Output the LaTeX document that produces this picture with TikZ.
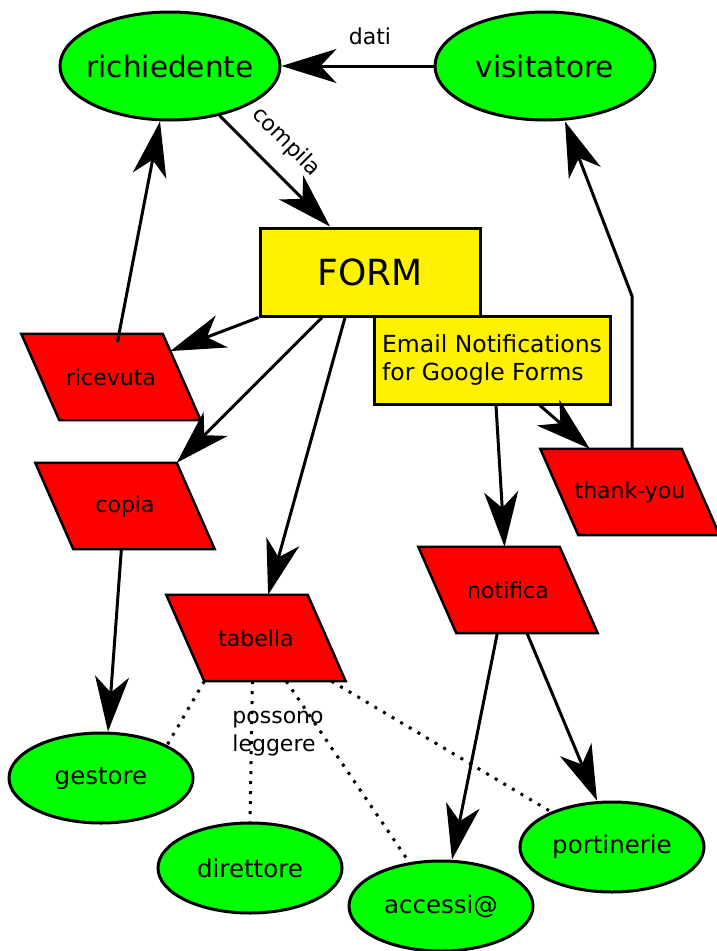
\documentclass[tikz,border=0pt]{standalone}
\usepackage{fontspec}
\setmainfont{DejaVu Sans}
\usetikzlibrary{arrows.meta,shapes.geometric,calc,backgrounds}
\begin{document}
\begin{tikzpicture}[x=1pt,y=-1pt,
  ell/.style={ellipse, draw, line width=3pt, fill=green, inner sep=0pt, minimum width=184pt, minimum height=90pt, font=\fontsize{24.5}{28}\selectfont},
  bigell/.style={ell, minimum width=220pt, minimum height=108pt, font=\fontsize{29.5}{34}\selectfont},
  para/.style={rectangle, minimum width=141pt, minimum height=86pt, inner sep=0pt, font=\fontsize{22}{26}\selectfont},
  parafill/.style={draw, line width=2.5pt, fill=red, line join=miter},
  box/.style={rectangle, draw, line width=3pt, fill=yellow},
  arr/.style={line width=3pt, -{Stealth[length=55pt,width=34pt,inset=16pt]}},
  dot/.style={line width=3pt, dash pattern=on 3pt off 7pt},
  lbl/.style={font=\fontsize{22}{28}\selectfont}
]
\useasboundingbox (0,0) rectangle (717,951);

\node[bigell] (rich) at (170,66) {\makebox[0pt]{richiedente}};
\node[bigell] (vis) at (545,66) {\makebox[0pt]{visitatore}};
\node[box, minimum width=220pt, minimum height=88pt, font=\fontsize{36}{40}\selectfont] (form) at (370,272) {FORM};
\node[box, minimum width=236pt, minimum height=88pt, align=left, font=\fontsize{23.5}{28}\selectfont] (email) at (492,360) {Email Notifications\\for Google Forms};
\node[para] (ric) at (111,377) {ricevuta};
\node[para] (copia) at (125,506) {copia};
\node[para] (tab) at (256,638) {tabella};
\node[para] (notif) at (508,590) {notifica};
\node[para] (thank) at (630,492) {thank-you};
\node[ell] (gest) at (101,778) {\makebox[0pt]{gestore}};
\node[ell] (dir) at (250,868) {\makebox[0pt]{direttore}};
\node[ell] (acc) at (441,906) {\makebox[0pt]{accessi@}};
\node[ell] (port) at (612,847) {\makebox[0pt]{portinerie}};

\begin{pgfonlayer}{background}
\foreach \n in {ric,copia,tab,notif,thank}
  \filldraw[parafill] ($(\n.north west)+(-19,0)$) -- ($(\n.north east)+(-19,0)$) -- ($(\n.south east)+(19,0)$) -- ($(\n.south west)+(19,0)$) -- cycle;
\end{pgfonlayer}

\node[lbl] (dati) at (370,36) {dati};
\node[lbl, align=left] (pl) at (278,734) {possono\\leggere};
\coordinate (bend) at (632,296);

\draw[arr] (vis.west) -- (rich.east);
\draw[arr] (rich.-45) -- node[lbl, sloped, above=13pt, pos=0.42] {compila} ([xshift=-40pt]form.north);
\draw[arr] ($(ric.north west)!0.68!(ric.north east)+(-19,8)$) -- ([xshift=-10pt]rich.south);
\draw[arr] (form.south west) -- ($(ric.north east)!0.2!(ric.south east)+(-11.4,0)$);
\draw[arr] ([xshift=-48pt]form.south) -- ($(copia.north east)+(-19,0)$);
\draw[arr] ([xshift=-25pt]form.south) -- ($(tab.north west)!0.72!(tab.north east)+(-19,0)$);
\draw[arr] ([xshift=48pt]email.south) -- ($(thank.north west)!0.35!(thank.north east)+(-19,0)$);
\draw[arr] ([xshift=4pt]email.south) -- ($(notif.north west)!0.61!(notif.north east)+(-19,0)$);
\draw[arr] ($(thank.north west)!0.65!(thank.north east)+(-19,0)$) -- (bend) -- ([xshift=20pt]vis.south);
\draw[arr] ($(copia.south west)!0.34!(copia.south east)+(19,0)$) -- ([xshift=7pt]gest.north);
\draw[arr] ($(notif.south west)!0.29!(notif.south east)+(19,0)$) -- ([xshift=11pt]acc.north);
\draw[arr] ($(notif.south west)!0.5!(notif.south east)+(19,0)$) -- ([xshift=-15pt]port.north);

\draw[dot] ($(tab.south west)+(19,0)$) -- (gest.north east);
\draw[dot] ($(tab.south west)!0.34!(tab.south east)+(19,0)$) -- (dir.north);
\draw[dot] ($(tab.south west)!0.58!(tab.south east)+(19,0)$) -- (acc.126);
\draw[dot] ($(tab.south west)!0.9!(tab.south east)+(19,0)$) -- (port.150);
\end{tikzpicture}
\end{document}
